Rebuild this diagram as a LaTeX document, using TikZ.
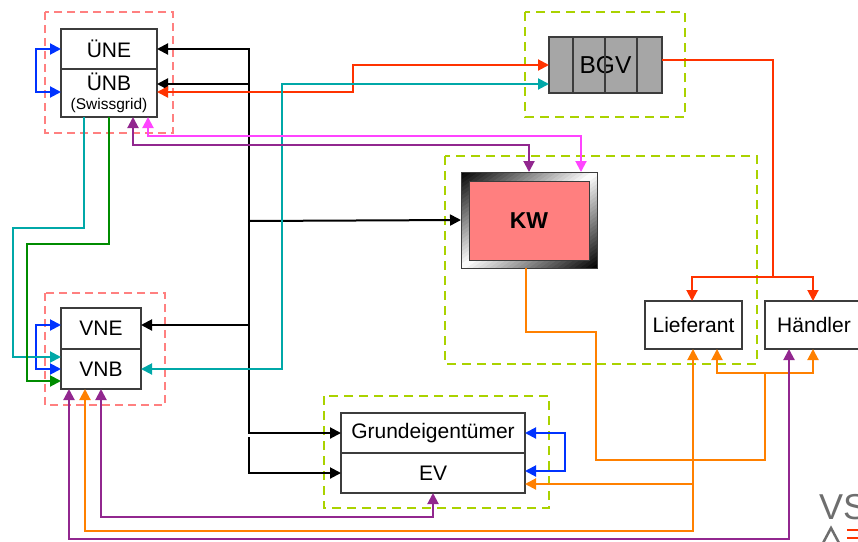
\documentclass[tikz,border=0pt]{standalone}
\usepackage{fontspec}
\setmainfont{Liberation Sans}
\usetikzlibrary{arrows.meta,calc}
\definecolor{cRed}{RGB}{255,51,0}
\definecolor{cCyan}{RGB}{0,168,168}
\definecolor{cBlue}{RGB}{0,51,255}
\definecolor{cGreen}{RGB}{0,140,0}
\definecolor{cPink}{RGB}{255,68,255}
\definecolor{cPurple}{RGB}{146,39,143}
\definecolor{cOrange}{RGB}{255,128,0}
\definecolor{grpRed}{RGB}{255,128,128}
\definecolor{grpGreen}{RGB}{170,210,0}
\definecolor{boxGray}{RGB}{60,60,60}
\definecolor{bgvGray}{RGB}{166,166,166}
\definecolor{kwRed}{RGB}{255,127,127}
\definecolor{logoGray}{RGB}{110,110,110}
\begin{document}
\begin{tikzpicture}[x=1pt,y=-1pt,
  >={Triangle[length=11pt,width=11pt]},
  box/.style={draw=boxGray, line width=1.2pt, fill=white, inner sep=0pt, outer sep=0pt,
    font=\fontsize{21}{23}\selectfont},
  grpred/.style={draw=grpRed, line width=2.2pt, dash pattern=on 8pt off 5pt},
  grpgreen/.style={draw=grpGreen, line width=2.2pt, dash pattern=on 9pt off 6pt},
  conn/.style={line width=2pt},
  blk/.style={conn, draw=black},
  rd/.style={conn, draw=cRed},
  cy/.style={conn, draw=cCyan},
  bl/.style={conn, draw=cBlue},
  gr/.style={conn, draw=cGreen},
  pk/.style={conn, draw=cPink},
  pu/.style={conn, draw=cPurple},
  og/.style={conn, draw=cOrange}]
\useasboundingbox (0,0) rectangle (858,541);
\clip (0,0) rectangle (858,541);

% groups
\draw[grpred] (45,12) rectangle (173,133);
\draw[grpred] (45,293) rectangle (165,405);
\draw[grpgreen] (525,12) rectangle (685,117);
\draw[grpgreen] (445,156) rectangle (757,364);
\draw[grpgreen] (324,396) rectangle (549,508);

% nodes
\node[box, minimum width=96pt, minimum height=40pt] (une) at (109,49) {ÜNE};
\node[box, minimum width=96pt, minimum height=48pt, align=center] (unb) at (109,93)
  {ÜNB\\[-4pt]{\fontsize{15.5}{17}\selectfont (Swissgrid)}};
\node[box, minimum width=80pt, minimum height=41pt] (vne) at (101,328.5) {VNE};
\node[box, minimum width=80pt, minimum height=40pt] (vnb) at (101,369) {VNB};
\node[box, fill=bgvGray, minimum width=113pt, minimum height=56pt,
  font=\fontsize{24.5}{26}\selectfont] (bgv) at (605.5,65) {BGV};
\draw[draw=boxGray, line width=1.2pt] (573,37) -- (573,93) (605,37) -- (605,93) (637,37) -- (637,93);

% KW: shaded frame (black corners, white diagonal band), built from thin stripes
\begin{scope}
  \clip (461,172) rectangle (597,268);
  \foreach \i in {0,...,47} {
    \pgfmathsetmacro\sa{-78.4+\i*3.2667}
    \pgfmathsetmacro\sb{\sa+3.9}
    \pgfmathsetmacro\mm{min(100,abs(\sa+1.633)/78.4*100)}
    \pgfmathsetmacro\xa{529+\sa*0.5767}
    \pgfmathsetmacro\ya{220+\sa*0.8170}
    \pgfmathsetmacro\xb{529+\sb*0.5767}
    \pgfmathsetmacro\yb{220+\sb*0.8170}
    \fill[black!\mm!white] (\xa-81.7,\ya+57.67) -- (\xa+81.7,\ya-57.67)
      -- (\xb+81.7,\yb-57.67) -- (\xb-81.7,\yb+57.67) -- cycle;
  }
\end{scope}
\node[draw=boxGray, line width=1pt, inner sep=0pt, outer sep=0pt,
  minimum width=136pt, minimum height=96pt] (kw) at (529,220) {};
\node[draw=boxGray, line width=1pt, fill=kwRed, inner sep=0pt,
  minimum width=120pt, minimum height=79pt,
  font=\fontsize{23}{25}\selectfont\bfseries] (kwin) at (529,220.5) {KW};

\node[box, minimum width=97pt, minimum height=48pt] (lief) at (693.5,325) {Lieferant};
\node[box, minimum width=98pt, minimum height=48pt] (haen) at (814,325) {Händler};
\node[box, minimum width=184pt, minimum height=40pt] (grund) at (433,433) {Grundeigentümer};
\node[box, minimum width=184pt, minimum height=40pt] (ev) at (433,473) {EV};

% black bus
\draw[blk,<->] (une.east) -| (249,433) -- (grund.west);
\draw[blk,->] (249,84) -- ($(unb.east)+(0,-9)$);
\draw[blk,->] (249,221) -- (kw.west);
\draw[blk,->] (249,325) -- ($(vne.east)+(0,-3.5)$);
\draw[blk,->] (249,437) |- (ev.west);

% blue loops
\draw[bl,<->] (une.west) -| (36,70) |- ($(unb.west)+(0,-1)$);
\draw[bl,<->] ($(vne.west)+(0,-3.5)$) -| (36,350) |- (vnb.west);
\draw[bl,<->] (grund.east) -| (565,450) |- ($(ev.east)+(0,-2)$);

% red
\draw[rd,<->] ($(unb.east)+(0,-1)$) -| (353,65) -- (bgv.west);
\draw[rd] ($(bgv.east)+(0,-5)$) -| (773,277);
\draw[rd,->] (773,277) -| ($(lief.north)+(-1.5,0)$);
\draw[rd,->] (773,277) -| ($(haen.north)+(-1,0)$);

% cyan
\draw[cy,<->] (vnb.east) -| (282,84) -- ($(bgv.west)+(0,19)$);
\draw[cy,->] ($(unb.south)+(-25,0)$) |- (13,228) |- ($(vnb.west)+(0,-12)$);

% green
\draw[gr,->] (unb.south) |- (27,244) |- ($(vnb.west)+(0,12)$);

% pink / purple to KW
\draw[pk,<->] ($(unb.south)+(39,0)$) |- (581,136) -- ($(kw.north)+(52,0)$);
\draw[pu,<->] ($(unb.south)+(24,0)$) |- (529,145) -- (kw.north);

% orange
\draw[og] ($(kw.south)+(-3,0)$) |- (596,332) |- (765,460) -- (765,373);
\draw[og,->] (765,373) -| ($(lief.south)+(23.5,0)$);
\draw[og,->] (765,373) -| ($(haen.south)+(-1,0)$);
\draw[og,<->] ($(lief.south)+(-0.5,0)$) |- (85,531) -- ($(vnb.south)+(-16,0)$);
\draw[og,->] (693,484) -- ($(ev.east)+(0,11)$);

% purple bottom
\draw[pu,<->] ($(haen.south)+(-25,0)$) |- (69,539) -- ($(vnb.south)+(-32,0)$);
\draw[pu,<->] (ev.south) |- (101,517) -- (vnb.south);

% logo (partially visible at the page edge, as in the reference)
\node[anchor=base west, inner sep=0pt, text=logoGray,
  font=\fontsize{36}{36}\selectfont] (logo) at (819,519) {VS};
\draw[draw=logoGray, line width=2.5pt] (823,543) -- (831,528) -- (839,543);
\draw[draw=cRed, line width=2.5pt] (847,530) -- (862,530) (847,538) -- (862,538);
\end{tikzpicture}
\end{document}
